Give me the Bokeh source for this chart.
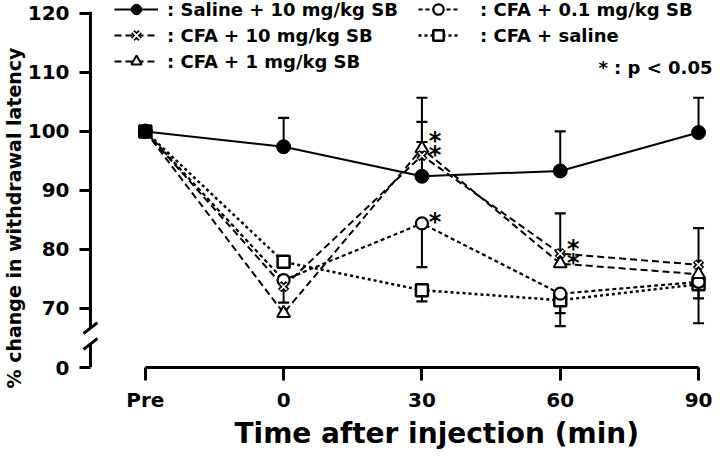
import numpy as np
from bokeh.plotting import figure
from bokeh.models import Range1d, FixedTicker, Legend, LegendItem, Label, Title
from bokeh.core.properties import value
from bokeh.embed import file_html
from bokeh.resources import INLINE

# ---------------- data ----------------
x_labels = ["Pre", "0", "30", "60", "90"]
x_pos = [0, 1, 2, 3, 4]

saline_sb10 = [100, 97.4, 92.4, 93.3, 99.8]
saline_sb10_up = [0, 4.9, 5.8, 6.7, 5.9]
saline_sb10_dn = [0, 0, 0, 0, 0]

cfa_sb10 = [100, 73.7, 95.9, 79.3, 77.4]
cfa_sb10_up = [0, 0, 5.7, 6.8, 6.2]
cfa_sb10_dn = [0, 2.7, 0, 0, 0]

cfa_sb1 = [100, 69.2, 97.1, 77.6, 75.8]
cfa_sb1_up = [0, 0, 8.6, 0, 0]
cfa_sb1_dn = [0, 0, 0, 0, 0]

cfa_sb01 = [100, 74.8, 84.4, 72.5, 74.5]
cfa_sb01_up = [0, 0, 0, 0, 0]
cfa_sb01_dn = [0, 0, 7.4, 3.3, 2.8]

cfa_saline = [100, 77.9, 73.1, 71.4, 74.1]
cfa_saline_up = [0, 0, 0, 0, 0]
cfa_saline_dn = [0, 0, 1.9, 4.4, 6.6]

sig_sb10 = [2, 3]
sig_sb1 = [2, 3]
sig_sb01 = [2]

y_ticks = [0, 70, 80, 90, 100, 110, 120]

# ---------------- layout constants ----------------
FONT = "DejaVu Sans"
W, H = 712, 449
FRAME_L, FRAME_B = 80, 372
PX = (698.0 - 143.0) / 4.0      # px per x unit
PY = (372.0 - 13.0) / 60.0      # px per y unit
X0 = (FRAME_L - 143.0) / PX
X1 = (W - 143.0) / PX
ZERO_POS = 60.0                 # where the broken-axis zero sits
Y1 = 120 + 13.0 / PY
AXX = (88.0 - 143.0) / PX       # drawn y axis line position


def disp(v):
    return v if v >= 65 else ZERO_POS + v


p = figure(width=W, height=H, output_backend="svg", toolbar_location=None,
           x_range=Range1d(X0, X1), y_range=Range1d(ZERO_POS, Y1),
           min_border_left=FRAME_L, min_border_right=0, min_border_top=0,
           min_border_bottom=H - FRAME_B)
p.outline_line_color = None
p.grid.visible = False

# x axis
xa = p.xaxis[0]
xa.ticker = FixedTicker(ticks=x_pos)
xa.major_label_overrides = {i: s for i, s in zip(x_pos, x_labels)}
xa.bounds = (x_pos[0], x_pos[-1])
xa.axis_line_width = 3
xa.major_tick_line_width = 3
xa.major_tick_out = 13
xa.major_tick_in = 0
xa.minor_tick_line_color = None
xa.major_label_standoff = 7
xa.major_label_text_font = FONT
xa.major_label_text_font_style = "bold"
xa.major_label_text_font_size = "20px"
xa.major_label_text_color = "black"

# y axis (ticks + labels; line drawn by hand for the break)
ya = p.yaxis[0]
ya.ticker = FixedTicker(ticks=[disp(t) for t in y_ticks])
ya.major_label_overrides = {disp(t): str(t) for t in y_ticks}
ya.axis_line_color = None
ya.major_tick_line_width = 3
ya.major_tick_out = 3
ya.major_tick_in = 8
ya.minor_tick_line_color = None
ya.major_label_standoff = 10
ya.major_label_text_font = FONT
ya.major_label_text_font_style = "bold"
ya.major_label_text_font_size = "20px"
ya.major_label_text_color = "black"

# axis titles
p.add_layout(Title(text="Time after injection (min)", align="left", offset=152, standoff=0,
                   text_font=FONT, text_font_style="bold", text_font_size="28px",
                   text_color="black"), "below")
p.add_layout(Title(text="% change in withdrawal latency", align="left", offset=-21, standoff=0,
                   text_font=FONT, text_font_style="bold", text_font_size="19px",
                   text_color="black"), "left")

# hand-drawn y axis line with break
brk_hi = 66.68
brk_lo = 64.0
p.segment(x0=[AXX, AXX], y0=[brk_hi, ZERO_POS], x1=[AXX, AXX], y1=[120 + 1.5 / PY, brk_lo],
          line_color="black", line_width=3)
dx, dy = 7.0 / PX, 5.5 / PY
p.segment(x0=[AXX - dx, AXX - dx], y0=[brk_hi - dy, brk_lo - dy],
          x1=[AXX + dx, AXX + dx], y1=[brk_hi + dy, brk_lo + dy],
          line_color="black", line_width=3)

# ---------------- series ----------------
series = [
    dict(key="cfa_saline", label=": CFA + saline", v=cfa_saline, up=cfa_saline_up, dn=cfa_saline_dn,
         dash="3 3", lw=2.5, sig=[]),
    dict(key="cfa_sb01", label=": CFA + 0.1 mg/kg SB", v=cfa_sb01, up=cfa_sb01_up, dn=cfa_sb01_dn,
         dash="4 3", lw=2.2, sig=sig_sb01),
    dict(key="cfa_sb1", label=": CFA + 1 mg/kg SB", v=cfa_sb1, up=cfa_sb1_up, dn=cfa_sb1_dn,
         dash="7 4", lw=2, sig=sig_sb1),
    dict(key="cfa_sb10", label=": CFA + 10 mg/kg SB", v=cfa_sb10, up=cfa_sb10_up, dn=cfa_sb10_dn,
         dash="7 4", lw=2, sig=sig_sb10),
    dict(key="saline_sb10", label=": Saline + 10 mg/kg SB", v=saline_sb10, up=saline_sb10_up,
         dn=saline_sb10_dn, dash="solid", lw=2, sig=[]),
]

lines = {}
for s in series:
    lines[s["key"]] = p.line(x_pos, s["v"], line_color="black", line_width=s["lw"],
                             line_dash=s["dash"])

# error bars
for s in series:
    v = np.array(s["v"], float)
    xs = np.array(x_pos, float)
    for arr, sign in ((np.array(s["up"], float), 1), (np.array(s["dn"], float), -1)):
        m = arr > 0
        if m.any():
            ends = v[m] + sign * arr[m]
            p.segment(x0=xs[m], y0=v[m], x1=xs[m], y1=ends, line_color="black", line_width=2)
            p.scatter(xs[m], ends, marker="dash", size=11, line_color="black", line_width=2.2)

markers = {}
markers["cfa_saline"] = [p.scatter(x_pos, cfa_saline, marker="square", size=12, fill_color="white",
                                   line_color="black", line_width=2.5)]
markers["cfa_sb01"] = [p.scatter(x_pos, cfa_sb01, marker="circle", size=12, fill_color="white",
                                 line_color="black", line_width=2.2)]
markers["cfa_sb1"] = [p.scatter(x_pos, cfa_sb1, marker="triangle", size=13, fill_color="white",
                                line_color="black", line_width=2)]
markers["cfa_sb10"] = [p.scatter(x_pos, cfa_sb10, marker="x", size=11, line_color="black", line_width=5),
                       p.scatter(x_pos, cfa_sb10, marker="x", size=9, line_color="white", line_width=1.6)]
markers["saline_sb10"] = [p.scatter(x_pos, saline_sb10, marker="circle", size=14, fill_color="black",
                                    line_color="black", line_width=1)]

# significance stars (stacked so they do not collide)
stars = {}
for s in series:
    for i in s["sig"]:
        stars.setdefault(i, []).append(s["v"][i] * PY + 8.0)
sx, sy = [], []
for i, cs in stars.items():
    cs = sorted(cs)
    for k in range(1, len(cs)):
        if cs[k] < cs[k - 1] + 14:
            cs[k] = cs[k - 1] + 14
    for c in cs:
        sx.append(x_pos[i])
        sy.append((c - 7.0) / PY)
p.text(x=sx, y=sy, text=["*"] * len(sx), text_font=value(FONT), text_font_style="bold",
       text_font_size="24px", text_align="center", text_baseline="middle", x_offset=13,
       text_color="black")

# ---------------- legends ----------------
by_key = {s["key"]: s for s in series}


def item(k):
    return LegendItem(label=by_key[k]["label"], renderers=[lines[k]] + markers[k])


ROW = 26
LEG_TOP = 1   # px below the frame top


def style(lg, gw, standoff):
    lg.glyph_width = gw
    lg.glyph_height = ROW
    lg.label_height = ROW
    lg.spacing = 0
    lg.padding = 0
    lg.margin = 0
    lg.border_line_alpha = 0
    lg.background_fill_alpha = 0
    lg.label_standoff = standoff
    lg.label_text_font = FONT
    lg.label_text_font_style = "bold"
    lg.label_text_font_size = "18px"
    lg.label_text_color = "black"


leg1 = Legend(items=[item("saline_sb10"), item("cfa_sb10"), item("cfa_sb1")],
              location=(112 - FRAME_L, FRAME_B - LEG_TOP - 3 * ROW))
style(leg1, 44, 9)
leg2 = Legend(items=[item("cfa_sb01"), item("cfa_saline")],
              location=(416 - FRAME_L, FRAME_B - LEG_TOP - 2 * ROW))
style(leg2, 40, 22)
p.add_layout(leg1)
p.add_layout(leg2)

p.add_layout(Label(x=W - 2 - FRAME_L, y=FRAME_B - 72, x_units="screen", y_units="screen",
                   text="* : p < 0.05", text_align="right", text_baseline="middle",
                   text_font=FONT, text_font_style="bold", text_font_size="18px",
                   text_color="black"))

open("out.html", "w").write(file_html(p, INLINE))
